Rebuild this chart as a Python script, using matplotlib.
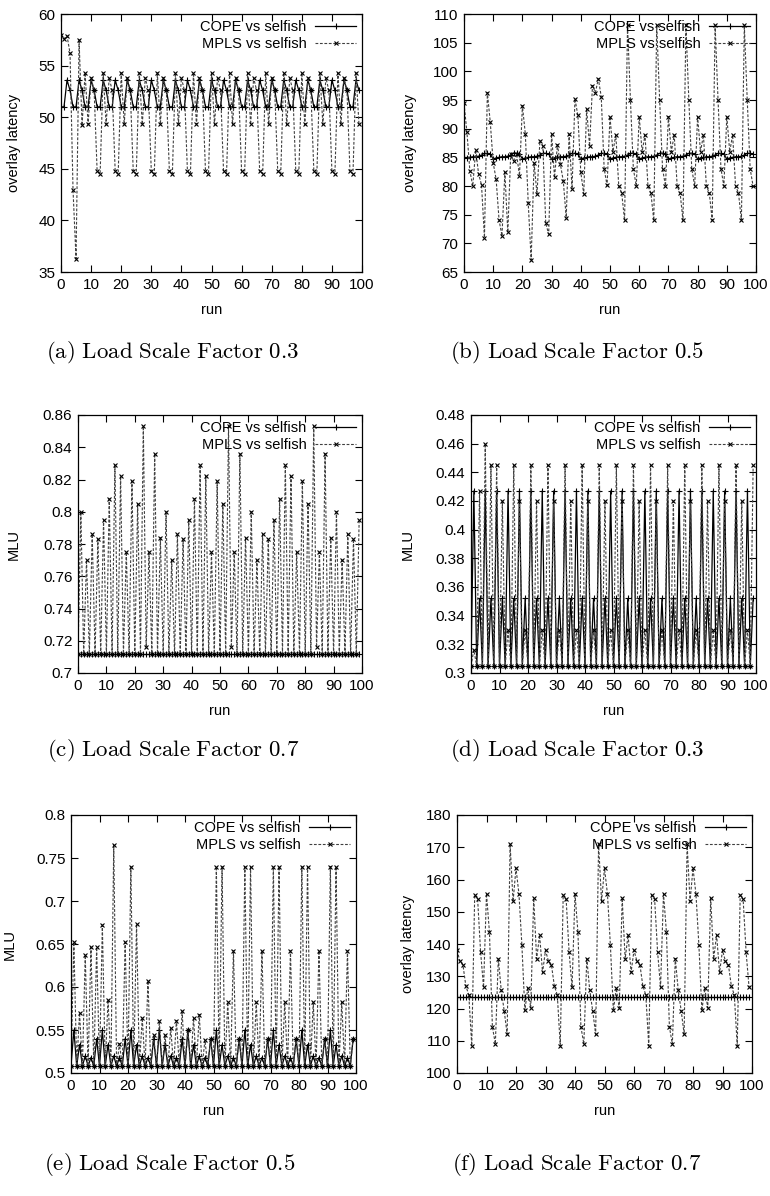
import matplotlib.pyplot as plt
from matplotlib.ticker import FuncFormatter

plt.rcParams['font.family'] = ['Liberation Sans', 'DejaVu Sans']
plt.rcParams['mathtext.fontset'] = 'cm'

runs = list(range(100))

# (a) overlay latency, load scale factor 0.3
cope_a = [51.0, 51.0, 53.6, 52.6, 51.0, 51.0, 53.6, 52.6, 51.0, 51.0, 53.6, 52.6, 51.0, 51.0, 53.6, 52.6, 51.0, 51.0, 53.6, 52.6,
          51.0, 51.0, 53.6, 52.6, 51.0, 51.0, 53.6, 52.6, 51.0, 51.0, 53.6, 52.6, 51.0, 51.0, 53.6, 52.6, 51.0, 51.0, 53.6, 52.6,
          51.0, 51.0, 53.6, 52.6, 51.0, 51.0, 53.6, 52.6, 51.0, 51.0, 53.6, 52.6, 51.0, 51.0, 53.6, 52.6, 51.0, 51.0, 53.6, 52.6,
          51.0, 51.0, 53.6, 52.6, 51.0, 51.0, 53.6, 52.6, 51.0, 51.0, 53.6, 52.6, 51.0, 51.0, 53.6, 52.6, 51.0, 51.0, 53.6, 52.6,
          51.0, 51.0, 53.6, 52.6, 51.0, 51.0, 53.6, 52.6, 51.0, 51.0, 53.6, 52.6, 51.0, 51.0, 53.6, 52.6, 51.0, 51.0, 53.6, 52.6]
mpls_a = [58.0, 57.6, 57.9, 56.2, 42.9, 36.3, 57.5, 49.2, 54.3, 49.3, 53.8, 52.6,
          44.8, 44.5, 54.3, 49.3, 53.8, 52.6, 44.8, 44.5, 54.3, 49.3, 53.8, 52.6,
          44.8, 44.5, 54.3, 49.3, 53.8, 52.6, 44.8, 44.5, 54.3, 49.3, 53.8, 52.6,
          44.8, 44.5, 54.3, 49.3, 53.8, 52.6, 44.8, 44.5, 54.3, 49.3, 53.8, 52.6,
          44.8, 44.5, 54.3, 49.3, 53.8, 52.6, 44.8, 44.5, 54.3, 49.3, 53.8, 52.6,
          44.8, 44.5, 54.3, 49.3, 53.8, 52.6, 44.8, 44.5, 54.3, 49.3, 53.8, 52.6,
          44.8, 44.5, 54.3, 49.3, 53.8, 52.6, 44.8, 44.5, 54.3, 49.3, 53.8, 52.6,
          44.8, 44.5, 54.3, 49.3, 53.8, 52.6, 44.8, 44.5, 54.3, 49.3, 53.8, 52.6,
          44.8, 44.5, 54.3, 49.3]

# (b) overlay latency, load scale factor 0.5
cope_b = [85.0, 84.9, 85.0, 85.1, 85.1, 85.2, 85.4, 85.7, 85.7, 85.6,
          84.7, 84.9, 85.0, 85.1, 85.1, 85.2, 85.4, 85.7, 85.7, 85.6,
          84.7, 84.9, 85.0, 85.1, 85.1, 85.2, 85.4, 85.7, 85.7, 85.6,
          84.7, 84.9, 85.0, 85.1, 85.1, 85.2, 85.4, 85.7, 85.7, 85.6,
          84.7, 84.9, 85.0, 85.1, 85.1, 85.2, 85.4, 85.7, 85.7, 85.6,
          84.7, 84.9, 85.0, 85.1, 85.1, 85.2, 85.4, 85.7, 85.7, 85.6,
          84.7, 84.9, 85.0, 85.1, 85.1, 85.2, 85.4, 85.7, 85.7, 85.6,
          84.7, 84.9, 85.0, 85.1, 85.1, 85.2, 85.4, 85.7, 85.7, 85.6,
          84.7, 84.9, 85.0, 85.1, 85.1, 85.2, 85.4, 85.7, 85.7, 85.6,
          84.7, 84.9, 85.0, 85.1, 85.1, 85.2, 85.4, 85.7, 85.7, 85.6]
mpls_b = [94.4, 89.4, 82.7, 80.0, 86.3, 82.1, 80.2, 71.0, 96.3, 91.1,
          84.0, 81.2, 74.1, 71.3, 82.4, 71.9, 85.6, 84.4, 85.6, 81.8,
          94.0, 89.1, 77.0, 67.1, 84.0, 78.6, 87.9, 87.0, 73.5, 71.6,
          89.1, 81.5, 87.2, 83.8, 80.9, 74.5, 89.0, 79.5, 95.2, 92.3,
          82.4, 78.6, 93.4, 87.0, 97.5, 96.3, 98.7, 95.6, 83.0, 80.1,
          92.1, 86.0, 88.9, 80.0, 78.8, 74.0, 108.0, 95.0, 83.0, 80.0,
          92.1, 86.0, 88.9, 80.0, 78.8, 74.0, 108.0, 95.0, 83.0, 80.0,
          92.1, 86.0, 88.9, 80.0, 78.8, 74.0, 108.0, 95.0, 83.0, 80.0,
          92.1, 86.0, 88.9, 80.0, 78.8, 74.0, 108.0, 95.0, 83.0, 80.0,
          92.1, 86.0, 88.9, 80.0, 78.8, 74.0, 108.0, 95.0, 83.0, 80.0]

# (c) MLU, load scale factor 0.7
cope_c = [0.712] * 100
mpls_c = [0.712, 0.800, 0.712, 0.770, 0.712, 0.786, 0.712, 0.783, 0.712, 0.795,
          0.712, 0.808, 0.712, 0.829, 0.712, 0.822, 0.712, 0.775, 0.712, 0.819,
          0.712, 0.805, 0.712, 0.853, 0.716, 0.775, 0.712, 0.836, 0.712, 0.784,
          0.712, 0.800, 0.712, 0.770, 0.712, 0.786, 0.712, 0.783, 0.712, 0.795,
          0.712, 0.808, 0.712, 0.829, 0.712, 0.822, 0.712, 0.775, 0.712, 0.819,
          0.712, 0.805, 0.712, 0.853, 0.716, 0.775, 0.712, 0.836, 0.712, 0.784,
          0.712, 0.800, 0.712, 0.770, 0.712, 0.786, 0.712, 0.783, 0.712, 0.795,
          0.712, 0.808, 0.712, 0.829, 0.712, 0.822, 0.712, 0.775, 0.712, 0.819,
          0.712, 0.805, 0.712, 0.853, 0.716, 0.775, 0.712, 0.836, 0.712, 0.784,
          0.712, 0.800, 0.712, 0.770, 0.712, 0.786, 0.712, 0.783, 0.712, 0.795]

# (d) MLU, load scale factor 0.3
cope_d = [0.305, 0.427, 0.305, 0.352, 0.305, 0.427, 0.305, 0.352, 0.305, 0.427,
          0.305, 0.352, 0.305, 0.427, 0.305, 0.352, 0.305, 0.427, 0.305, 0.352,
          0.305, 0.427, 0.305, 0.352, 0.305, 0.427, 0.305, 0.352, 0.305, 0.427,
          0.305, 0.352, 0.305, 0.427, 0.305, 0.352, 0.305, 0.427, 0.305, 0.352,
          0.305, 0.427, 0.305, 0.352, 0.305, 0.427, 0.305, 0.352, 0.305, 0.427,
          0.305, 0.352, 0.305, 0.427, 0.305, 0.352, 0.305, 0.427, 0.305, 0.352,
          0.305, 0.427, 0.305, 0.352, 0.305, 0.427, 0.305, 0.352, 0.305, 0.427,
          0.305, 0.352, 0.305, 0.427, 0.305, 0.352, 0.305, 0.427, 0.305, 0.352,
          0.305, 0.427, 0.305, 0.352, 0.305, 0.427, 0.305, 0.352, 0.305, 0.427,
          0.305, 0.352, 0.305, 0.427, 0.305, 0.352, 0.305, 0.427, 0.305, 0.352]
mpls_d = [0.305, 0.316, 0.305, 0.427, 0.305, 0.460, 0.305, 0.445, 0.305, 0.445,
          0.305, 0.420, 0.305, 0.330, 0.305, 0.445, 0.305, 0.420, 0.305, 0.330,
          0.305, 0.445, 0.305, 0.420, 0.305, 0.330, 0.305, 0.445, 0.305, 0.420,
          0.305, 0.330, 0.305, 0.445, 0.305, 0.420, 0.305, 0.330, 0.305, 0.445,
          0.305, 0.420, 0.305, 0.330, 0.305, 0.445, 0.305, 0.420, 0.305, 0.330,
          0.305, 0.445, 0.305, 0.420, 0.305, 0.330, 0.305, 0.445, 0.305, 0.420,
          0.305, 0.330, 0.305, 0.445, 0.305, 0.420, 0.305, 0.330, 0.305, 0.445,
          0.305, 0.420, 0.305, 0.330, 0.305, 0.445, 0.305, 0.420, 0.305, 0.330,
          0.305, 0.445, 0.305, 0.420, 0.305, 0.330, 0.305, 0.445, 0.305, 0.420,
          0.305, 0.330, 0.305, 0.445, 0.305, 0.420, 0.305, 0.330, 0.305, 0.445]

# (e) MLU, load scale factor 0.5
cope_e = [0.508, 0.550, 0.508, 0.533, 0.508, 0.520, 0.508, 0.518, 0.508, 0.540,
          0.508, 0.550, 0.508, 0.533, 0.508, 0.520, 0.508, 0.518, 0.508, 0.540,
          0.508, 0.550, 0.508, 0.533, 0.508, 0.520, 0.508, 0.518, 0.508, 0.540,
          0.508, 0.550, 0.508, 0.533, 0.508, 0.520, 0.508, 0.518, 0.508, 0.540,
          0.508, 0.550, 0.508, 0.533, 0.508, 0.520, 0.508, 0.518, 0.508, 0.540,
          0.508, 0.550, 0.508, 0.533, 0.508, 0.520, 0.508, 0.518, 0.508, 0.540,
          0.508, 0.550, 0.508, 0.533, 0.508, 0.520, 0.508, 0.518, 0.508, 0.540,
          0.508, 0.550, 0.508, 0.533, 0.508, 0.520, 0.508, 0.518, 0.508, 0.540,
          0.508, 0.550, 0.508, 0.533, 0.508, 0.520, 0.508, 0.518, 0.508, 0.540,
          0.508, 0.550, 0.508, 0.533, 0.508, 0.520, 0.508, 0.518, 0.508, 0.540]
mpls_e = [0.508, 0.652, 0.508, 0.570, 0.508, 0.637, 0.508, 0.646, 0.508, 0.646,
          0.508, 0.672, 0.508, 0.585, 0.508, 0.765, 0.508, 0.534, 0.508, 0.652,
          0.508, 0.740, 0.508, 0.673, 0.508, 0.564, 0.508, 0.607, 0.508, 0.544,
          0.508, 0.560, 0.508, 0.544, 0.508, 0.552, 0.508, 0.561, 0.508, 0.572,
          0.508, 0.550, 0.508, 0.564, 0.508, 0.568, 0.508, 0.538, 0.508, 0.540,
          0.508, 0.740, 0.508, 0.740, 0.508, 0.582, 0.508, 0.642, 0.508, 0.540,
          0.508, 0.740, 0.508, 0.740, 0.508, 0.582, 0.508, 0.642, 0.508, 0.540,
          0.508, 0.740, 0.508, 0.740, 0.508, 0.582, 0.508, 0.642, 0.508, 0.540,
          0.508, 0.740, 0.508, 0.740, 0.508, 0.582, 0.508, 0.642, 0.508, 0.540,
          0.508, 0.740, 0.508, 0.740, 0.508, 0.582, 0.508, 0.642, 0.508, 0.540]

# (f) overlay latency, load scale factor 0.7
cope_f = [123.6] * 100
mpls_f = [138.0, 134.7, 133.6, 127.0, 124.2, 108.5, 155.2, 153.8, 137.5, 126.6,
          155.6, 143.6, 114.3, 109.0, 135.5, 125.6, 119.3, 112.0, 171.0, 153.2,
          163.5, 155.5, 139.6, 119.4, 126.3, 120.2, 154.2, 135.4, 142.8, 131.2,
          138.0, 134.7, 133.6, 127.0, 124.2, 108.5, 155.2, 153.8, 137.5, 126.6,
          155.6, 143.6, 114.3, 109.0, 135.5, 125.6, 119.3, 112.0, 171.0, 153.2,
          163.5, 155.5, 139.6, 119.4, 126.3, 120.2, 154.2, 135.4, 142.8, 131.2,
          138.0, 134.7, 133.6, 127.0, 124.2, 108.5, 155.2, 153.8, 137.5, 126.6,
          155.6, 143.6, 114.3, 109.0, 135.5, 125.6, 119.3, 112.0, 171.0, 153.2,
          163.5, 155.5, 139.6, 119.4, 126.3, 120.2, 154.2, 135.4, 142.8, 131.2,
          138.0, 134.7, 133.6, 127.0, 124.2, 108.5, 155.2, 153.8, 137.5, 126.6]

W, H = 770, 1196
fig = plt.figure(figsize=(W / 100, H / 100), dpi=100)

# (left, right, top, bottom) in pixels, y range, y step, y label, its x pixel, caption, caption centre
panels = [
    (cope_a, mpls_a, (61, 362, 14, 272), (35, 60), 5, 'overlay latency', 14, '(a)', '0.3', (173, 352)),
    (cope_b, mpls_b, (464, 756, 14, 272), (65, 110), 5, 'overlay latency', 410, '(b)', '0.5', (577, 352)),
    (cope_c, mpls_c, (78, 362, 415, 673), (0.7, 0.86), 0.02, 'MLU', 14, '(c)', '0.7', (173, 750)),
    (cope_d, mpls_d, (471, 756, 415, 673), (0.3, 0.48), 0.02, 'MLU', 408, '(d)', '0.3', (577, 750)),
    (cope_e, mpls_e, (71, 356, 815, 1073), (0.5, 0.8), 0.05, 'MLU', 10, '(e)', '0.5', (170, 1165)),
    (cope_f, mpls_f, (457, 752, 815, 1073), (100, 180), 10, 'overlay latency', 408, '(f)', '0.7', (577, 1165)),
]

fmt = FuncFormatter(lambda v, p: '%g' % round(v, 4))

for cope, mpls, box, ylim, ystep, ylab, ylab_x, tag, factor, cap in panels:
    l, r, t, b = box
    ax = fig.add_axes([l / W, 1 - b / H, (r - l) / W, (b - t) / H])
    ax.plot(runs, cope, color='black', lw=0.9, marker='+', ms=4, mew=0.8,
            label='COPE vs selfish')
    ax.plot(runs, mpls, color='0.25', lw=0.8, ls=(0, (2.5, 1.5)), marker='x', ms=3.5,
            mew=0.8, mec='black', label='MPLS vs selfish')
    ax.set_xlim(0, 100)
    ax.set_ylim(*ylim)
    ax.set_xticks(range(0, 101, 10))
    n = int(round((ylim[1] - ylim[0]) / ystep))
    ax.set_yticks([ylim[0] + i * ystep for i in range(n + 1)])
    ax.yaxis.set_major_formatter(fmt)
    ax.tick_params(direction='in', top=True, right=True, length=5, width=0.8,
                   labelsize=11, pad=4)
    for s in ax.spines.values():
        s.set_linewidth(0.9)
    ax.set_xlabel('run', fontsize=10.5, labelpad=8)
    ax.set_ylabel(ylab, fontsize=10.5, va='center')
    ax.yaxis.set_label_coords((ylab_x - l) / (r - l), 0.5)
    ax.legend(loc='upper right', frameon=False, markerfirst=False, fontsize=10.5,
              handlelength=2.8, handletextpad=0.6, labelspacing=0.2,
              borderaxespad=0.2, borderpad=0.2, numpoints=1)
    fig.text(cap[0] / W, 1 - cap[1] / H,
             r'$\mathrm{%s\ Load\ Scale\ Factor\ %s}$' % (tag, factor),
             ha='center', va='center', fontsize=16.5)

fig.savefig('out.png', dpi=100)
